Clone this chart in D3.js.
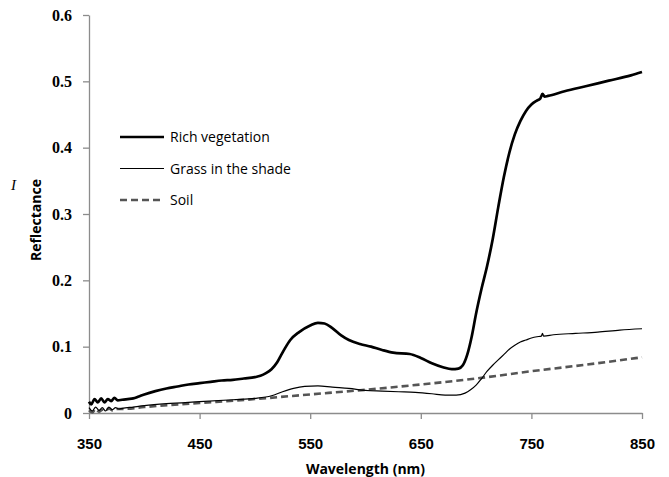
<!DOCTYPE html>
<html>
<head>
<meta charset="utf-8">
<script src="https://cdn.jsdelivr.net/npm/d3@7"></script>
<style>
  body { margin: 0; background: #fff; }
  svg { display: block; }
</style>
</head>
<body>
<svg width="669" height="477"></svg>
<script>
// Wavelength (nm) and reflectance
const richNm = [350, 352, 355, 358, 361, 364, 367, 370, 373, 376, 380, 385, 390, 395, 400, 410, 420, 430, 440, 450,
  460, 470, 480, 490, 500, 505, 510, 515, 520, 523, 527, 532, 540, 550, 557, 563, 570, 578, 585, 595, 605, 615, 625, 640,
  650, 660, 670, 678, 684, 688, 692, 696, 700, 705, 710, 715, 720, 725, 730, 735, 740, 745, 750, 755, 758, 760, 762,
  765, 780, 800, 820, 840, 850];
const richR = [0.017, 0.013, 0.021, 0.016, 0.022, 0.016, 0.021, 0.018, 0.023, 0.019, 0.020, 0.021, 0.022, 0.025, 0.028, 0.033, 0.037, 0.040, 0.043, 0.045,
  0.047, 0.049, 0.050, 0.052, 0.054, 0.056, 0.060, 0.066, 0.076, 0.085, 0.097, 0.110, 0.122, 0.132, 0.136, 0.135, 0.128, 0.117, 0.110, 0.104, 0.100, 0.095, 0.091, 0.089,
  0.083, 0.075, 0.069, 0.066, 0.067, 0.072, 0.088, 0.115, 0.150, 0.188, 0.222, 0.262, 0.310, 0.355, 0.392, 0.420, 0.440, 0.455, 0.465, 0.471, 0.474, 0.481, 0.477,
  0.478, 0.485, 0.493, 0.501, 0.509, 0.514];

const grassNm = [350, 353, 356, 359, 362, 365, 368, 371, 374, 377, 380, 390, 400, 420, 450, 480, 500, 515, 525, 535, 545, 557,
  570, 585, 600, 615, 630, 645, 660, 672, 682, 690, 695, 700, 705, 710, 715, 720, 725, 730, 735, 740, 745, 750, 755, 759,
  760, 761, 770, 790, 810, 830, 850];
const grassR = [0.008, 0.003, 0.009, 0.004, 0.008, 0.003, 0.009, 0.005, 0.008, 0.006, 0.007, 0.009, 0.011, 0.014, 0.017, 0.020, 0.022, 0.026, 0.032, 0.037, 0.040, 0.041,
  0.039, 0.037, 0.034, 0.033, 0.032, 0.031, 0.029, 0.027, 0.027, 0.030, 0.035, 0.042, 0.052, 0.063, 0.072, 0.080, 0.088, 0.096, 0.102, 0.107, 0.110, 0.113, 0.115, 0.116,
  0.120, 0.116, 0.118, 0.120, 0.122, 0.125, 0.127];

const soilNm = [350, 353, 356, 359, 362, 365, 368, 371, 375, 380, 400, 450, 500, 550, 600, 650, 700, 750, 800, 850];
const soilR = [0.004, 0.001, 0.006, 0.002, 0.005, 0.003, 0.007, 0.004, 0.006, 0.006, 0.009, 0.015, 0.021, 0.028, 0.035, 0.043, 0.052, 0.063, 0.073, 0.084];

const xTicks = [350, 450, 550, 650, 750, 850];
const yTicks = [0, 0.1, 0.2, 0.3, 0.4, 0.5, 0.6];

const seriesNames = ["Rich vegetation", "Grass in the shade", "Soil"];

const svg = d3.select("svg");
const axisColor = "#8c8c8c";

const x = d3.scaleLinear().domain([350, 850]).range([89, 642]);
const y = d3.scaleLinear().domain([0, 0.6]).range([413, 15]);

// axes
const xAxis = svg.append("g")
  .attr("transform", `translate(0,${y(0)})`)
  .call(d3.axisBottom(x).tickValues(xTicks).tickSize(6).tickSizeOuter(0).tickFormat(d3.format("d")));
xAxis.selectAll("text")
  .attr("y", 25)
  .attr("font-family", "'Liberation Sans', Arial, sans-serif")
  .attr("font-weight", "bold")
  .attr("font-size", 15)
  .attr("fill", "#000");

const yAxis = svg.append("g")
  .attr("transform", `translate(${x(350)},0)`)
  .call(d3.axisLeft(y).tickValues(yTicks).tickSize(6).tickSizeOuter(0).tickPadding(11)
    .tickFormat(d => d === 0 ? "0" : d3.format(".1f")(d)));
yAxis.selectAll("text")
  .attr("font-family", "'Liberation Serif', 'Times New Roman', serif")
  .attr("font-weight", "bold")
  .attr("font-size", 16)
  .attr("fill", "#000");

svg.selectAll(".domain, .tick line").attr("stroke", axisColor).attr("stroke-width", 1.3);

// axis titles
svg.append("text")
  .attr("x", (x(350) + x(850)) / 2)
  .attr("y", 474)
  .attr("text-anchor", "middle")
  .attr("font-family", "'Open Sans', sans-serif")
  .attr("font-weight", "bold")
  .attr("font-size", 14)
  .text("Wavelength (nm)");

svg.append("text")
  .attr("transform", "translate(41,220) rotate(-90)")
  .attr("text-anchor", "middle")
  .attr("font-family", "'Open Sans', sans-serif")
  .attr("font-weight", "bold")
  .attr("font-size", 14)
  .text("Reflectance");

// stray glyph left of the y title
svg.append("text")
  .attr("x", 11)
  .attr("y", 190)
  .attr("font-family", "'Liberation Serif', serif")
  .attr("font-style", "italic")
  .attr("font-size", 15)
  .text("I");

// lines
const line = d3.line()
  .x(d => x(d[0]))
  .y(d => y(d[1]))
  .curve(d3.curveMonotoneX);

const series = [
  { name: seriesNames[0], data: d3.zip(richNm, richR), color: "#000", width: 2.7, dash: null },
  { name: seriesNames[1], data: d3.zip(grassNm, grassR), color: "#000", width: 1.2, dash: null },
  { name: seriesNames[2], data: d3.zip(soilNm, soilR), color: "#555", width: 2.6, dash: "7,4" }
];

// draw soil first, then grass, rich on top
[2, 1, 0].forEach(i => {
  const s = series[i];
  svg.append("path")
    .datum(s.data)
    .attr("fill", "none")
    .attr("stroke", s.color)
    .attr("stroke-width", s.width)
    .attr("stroke-dasharray", s.dash)
    .attr("stroke-linejoin", "round")
    .attr("d", line);
});

// legend
const legend = svg.append("g");
series.forEach((s, i) => {
  const ly = 137 + i * 31.5;
  legend.append("line")
    .attr("x1", 120).attr("x2", 164)
    .attr("y1", ly).attr("y2", ly)
    .attr("stroke", s.color)
    .attr("stroke-width", s.width)
    .attr("stroke-dasharray", s.dash);
  legend.append("text")
    .attr("x", 170)
    .attr("y", ly + 5)
    .attr("font-family", "'Open Sans', sans-serif")
    .attr("font-size", 14)
    .text(s.name);
});
</script>
</body>
</html>
